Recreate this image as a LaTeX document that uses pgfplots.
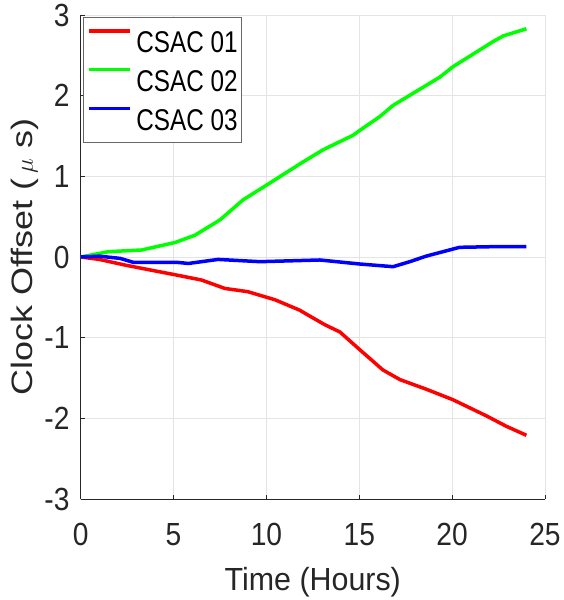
\documentclass[border=0pt]{standalone}
\usepackage{fontspec}
\setmainfont{Liberation Sans}[FakeStretch=0.88]
\newfontfamily\legfont{Liberation Sans}[FakeStretch=0.81]
\newfontfamily\xlabfont{Liberation Sans}[FakeStretch=0.95]
\newfontfamily\ylabfont{Liberation Sans}[FakeStretch=1.22]
\usepackage{pgfplots}
\pgfplotsset{compat=1.18}

\definecolor{axgray}{RGB}{38,38,38}
\definecolor{gridgray}{RGB}{228,228,228}

\begin{document}
\begin{tikzpicture}
% page = 563 x 600, axis box 464.3 x 484 at (80.7, 15) from top left
\path[use as bounding box] (-80.7pt,-101pt) rectangle (482.3pt,499pt);
\begin{axis}[
    scale only axis,
    width=464.3pt, height=484pt,
    xmin=0, xmax=25, ymin=-3, ymax=3,
    xtick={0,5,...,25}, ytick={-3,-2,...,3},
    axis x line*=bottom, axis y line*=left,
    axis line style={axgray, line width=0.8pt, -},
    tick align=inside, major tick length=4pt,
    tick style={axgray, line width=0.8pt},
    grid=major,
    grid style={gridgray, line width=0.8pt},
    /pgf/number format/assume math mode=true,
    tick label style={font=\fontsize{32}{38}\selectfont, text=axgray, inner sep=0pt},
    xticklabel style={anchor=base, yshift=-46pt},
    yticklabel style={anchor=east, xshift=-11pt},
    legend style={at={(0.0043,0.9959)}, anchor=north west, draw=axgray!70,
        font=\legfont\fontsize{30}{36}\selectfont,
        inner xsep=4pt, inner ysep=12pt,
        nodes={inner sep=0pt, text height=21.7pt, text depth=0pt},
        legend cell align=left, row sep=15.3pt, column sep=5pt},
    legend image code/.code={\draw[#1, line width=3.5pt] (0pt,10.85pt) -- (41pt,10.85pt);},
]
\addplot[red, line width=3.5pt] coordinates {
 (0,0) (1,-0.03) (2.39,-0.10) (3.5,-0.15) (5.08,-0.22) (6.5,-0.285)
 (7.77,-0.39) (9.0,-0.43) (10.46,-0.53) (11.8,-0.66) (12.24,-0.72)
 (13.15,-0.84) (13.96,-0.93) (15.03,-1.15) (16.27,-1.40) (17.19,-1.52)
 (18.62,-1.64) (20.05,-1.77) (21.85,-1.97) (22.93,-2.10) (24.0,-2.21)
};
\addlegendentry{CSAC 01}
\addplot[green, line width=3.5pt] coordinates {
 (0,0) (1.49,0.066) (3.28,0.087) (5.08,0.18) (6.15,0.27) (7.5,0.46)
 (8.75,0.71) (10.0,0.89) (11.98,1.18) (13.06,1.33) (14.67,1.51)
 (15.03,1.57) (16.1,1.74) (16.82,1.88) (19.34,2.23) (20.05,2.36)
 (22.2,2.67) (22.74,2.74) (24.0,2.83)
};
\addlegendentry{CSAC 02}
\addplot[blue, line width=3.5pt] coordinates {
 (0,0) (1,0.01) (2.12,-0.017) (2.83,-0.066) (5.17,-0.066) (5.8,-0.08)
 (7.4,-0.03) (9.65,-0.058) (12.88,-0.037) (15.03,-0.087) (16.82,-0.12)
 (17.72,-0.058) (18.62,0.012) (20.4,0.12) (22.2,0.128) (24.0,0.128)
};
\addlegendentry{CSAC 03}
\end{axis}
\node[anchor=base, text=axgray, font=\xlabfont\fontsize{32}{38}\selectfont, inner sep=0pt]
  at (232.1pt,-91pt) {Time (Hours)};
\node[anchor=base, rotate=90, text=axgray, font=\ylabfont\fontsize{29.5}{35}\selectfont, inner sep=0pt]
  at (-47.7pt,242pt) {Clock Offset (\,$\mu$ s)};
\end{tikzpicture}
\end{document}
